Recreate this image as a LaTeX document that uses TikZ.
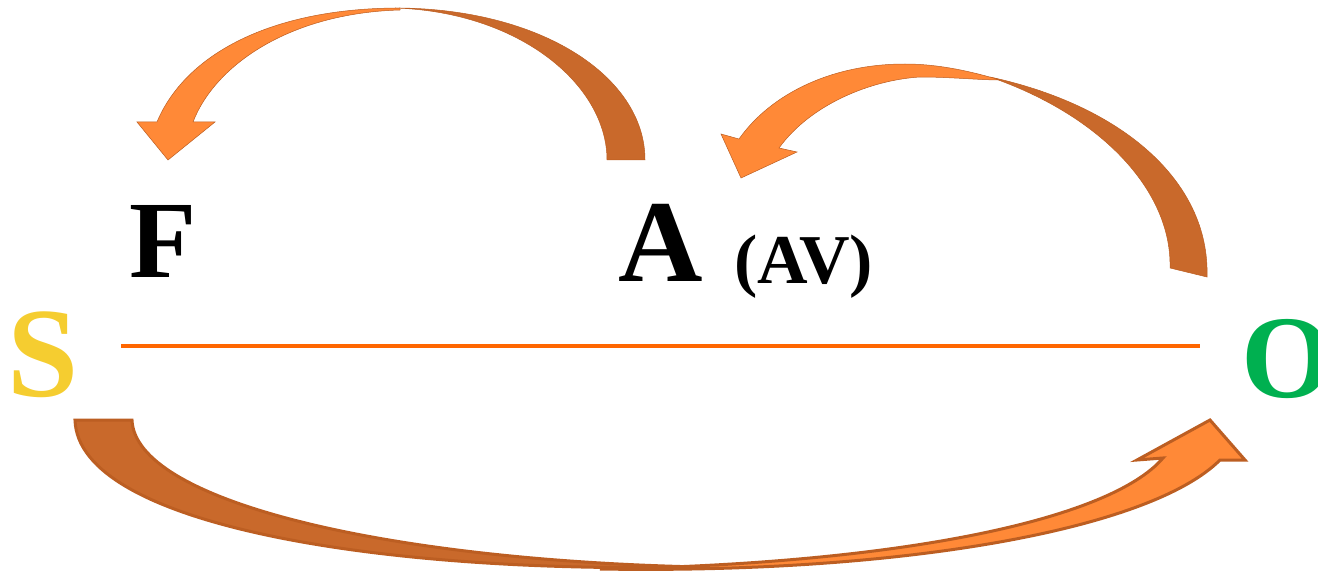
\documentclass[tikz,border=0pt]{standalone}
\usepackage{fontspec}
\setmainfont{Liberation Serif}
\usepackage{xcolor}
\usepackage{tikz}
\definecolor{ArrowLight}{RGB}{255,137,55}
\definecolor{ArrowDark}{RGB}{201,105,43}
\definecolor{ArrowEdge}{RGB}{188,94,34}
\definecolor{SubjYellow}{RGB}{245,205,48}
\definecolor{ObjGreen}{RGB}{0,176,80}
\definecolor{LineOrange}{RGB}{255,102,0}

\begin{document}
\begin{tikzpicture}[x=1pt, y=-1pt,
    letter/.style={font=\bfseries\fontsize{#1}{#1}\selectfont, inner sep=0pt, anchor=base west},
    backpart/.style={fill=ArrowDark, draw=ArrowEdge, line width=0.5pt},
    frontpart/.style={fill=ArrowLight, draw=ArrowEdge, line width=0.5pt}]
    \useasboundingbox (0,0) rectangle (1318,575);

    \node (S) [letter=128, text=SubjYellow] at (7,396) {S};
    \node (O) [letter=118, text=ObjGreen] at (1241,397) {O};
    \node (F) [letter=110, text=black] at (129,277) {F};
    \node (A) [letter=117, text=black] at (618,281) {A};
    \node (AV) [letter=70, text=black] at (734,283) {(AV)};

    \coordinate (lineL) at (121,346);
    \coordinate (lineR) at (1200,346);
    \draw[LineOrange, line width=4.5pt] (lineL) -- (lineR);

    % A -> F
    \path[backpart] (607,160) -- (645,160) .. controls (645,76) and (540,8) .. (395,8)
        .. controls (520,12) and (607,85) .. (607,160) -- cycle;
    \path[frontpart] (400,8) .. controls (270,8) and (185,55) .. (157,122)
        -- (137,122) -- (168,160) -- (215,122) -- (193,122)
        .. controls (215,65) and (290,13) .. (400,10) -- cycle;

    % O -> A
    \path[backpart] (990,77) .. controls (1120,105) and (1210,180) .. (1207,277)
        -- (1170,268) .. controls (1172,190) and (1100,115) .. (990,77) -- cycle;
    \path[frontpart] (1000,80) .. controls (960,68) and (930,64) .. (905,64)
        .. controls (830,64) and (770,95) .. (739,139)
        -- (721,134) -- (741,178) -- (797,152) -- (779,148)
        .. controls (810,105) and (870,80) .. (920,77)
        .. controls (950,77) and (980,80) .. (1000,80) -- cycle;

    % S -> O
    \path[backpart, line width=3pt] (75,420) -- (132,420)
        .. controls (135,500) and (380,560) .. (700,567)
        .. controls (380,574) and (78,525) .. (75,420) -- cycle;
    \path[frontpart, line width=3pt] (600,569) .. controls (900,574) and (1150,530) .. (1220,460)
        -- (1245,460) -- (1210,420) -- (1137,460) -- (1163,458)
        .. controls (1110,520) and (900,564) .. (600,569) -- cycle;
\end{tikzpicture}
\end{document}
